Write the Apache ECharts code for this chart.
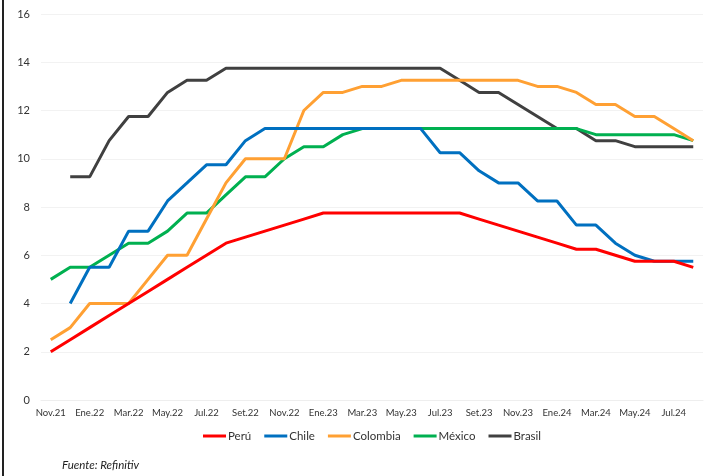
<!DOCTYPE html>
<html>
<head>
<meta charset="utf-8">
<script src="https://cdn.jsdelivr.net/npm/echarts@6/dist/echarts.min.js"></script>
<style>
html,body{margin:0;padding:0;background:#fff;}
#c{width:709px;height:476px;}
</style>
</head>
<body>
<div id="c"></div>
<script>
const months = ['Nov.21','Dic.21','Ene.22','Feb.22','Mar.22','Abr.22','May.22','Jun.22','Jul.22','Ago.22','Set.22','Oct.22','Nov.22','Dic.22','Ene.23','Feb.23','Mar.23','Abr.23','May.23','Jun.23','Jul.23','Ago.23','Set.23','Oct.23','Nov.23','Dic.23','Ene.24','Feb.24','Mar.24','Abr.24','May.24','Jun.24','Jul.24','Ago.24'];
const peru     = [2.0,2.5,3.0,3.5,4.0,4.5,5.0,5.5,6.0,6.5,6.75,7.0,7.25,7.5,7.75,7.75,7.75,7.75,7.75,7.75,7.75,7.75,7.5,7.25,7.0,6.75,6.5,6.25,6.25,6.0,5.75,5.75,5.75,5.5];
const chile    = [null,4.0,5.5,5.5,7.0,7.0,8.25,9.0,9.75,9.75,10.75,11.25,11.25,11.25,11.25,11.25,11.25,11.25,11.25,11.25,10.25,10.25,9.5,9.0,9.0,8.25,8.25,7.25,7.25,6.5,6.0,5.75,5.75,5.75];
const colombia = [2.5,3.0,4.0,4.0,4.0,5.0,6.0,6.0,7.5,9.0,10.0,10.0,10.0,12.0,12.75,12.75,13.0,13.0,13.25,13.25,13.25,13.25,13.25,13.25,13.25,13.0,13.0,12.75,12.25,12.25,11.75,11.75,11.25,10.75];
const mexico   = [5.0,5.5,5.5,6.0,6.5,6.5,7.0,7.75,7.75,8.5,9.25,9.25,10.0,10.5,10.5,11.0,11.25,11.25,11.25,11.25,11.25,11.25,11.25,11.25,11.25,11.25,11.25,11.25,11.0,11.0,11.0,11.0,11.0,10.75];
const brasil   = [null,9.25,9.25,10.75,11.75,11.75,12.75,13.25,13.25,13.75,13.75,13.75,13.75,13.75,13.75,13.75,13.75,13.75,13.75,13.75,13.75,13.25,12.75,12.75,12.25,11.75,11.25,11.25,10.75,10.75,10.5,10.5,10.5,10.5];
const yTicks = [0,2,4,6,8,10,12,14,16];

const names = ['Perú','Chile','Colombia','México','Brasil'];
const colors = ['#FF0000','#0070C0','#FFA033','#00B050','#404040'];
const datasets = [peru, chile, colombia, mexico, brasil];
const font = 'Lato, "Open Sans", sans-serif';

const chart = echarts.init(document.getElementById('c'));
chart.setOption({
  animation: false,
  backgroundColor: '#fff',
  textStyle: {fontFamily: font},
  grid: {left: 41, right: 6, top: 14, bottom: 76, containLabel: false},
  legend: {
    data: names,
    left: 198,
    top: 425,
    icon: 'rect',
    itemWidth: 23,
    itemHeight: 3,
    itemGap: 13,
    textStyle: {fontFamily: font, fontSize: 11.5, color: '#333', padding: [0,0,0,-3]}
  },
  xAxis: {
    type: 'category',
    data: months,
    boundaryGap: true,
    axisLine: {show: true, lineStyle: {color: '#EEEEEE', width: 1}},
    axisTick: {show: false},
    axisLabel: {interval: 1, fontSize: 9.5, color: '#333', margin: 8, fontFamily: font}
  },
  yAxis: {
    type: 'value',
    min: yTicks[0],
    max: yTicks[yTicks.length-1],
    interval: 2,
    axisLine: {show: false},
    axisTick: {show: false},
    splitLine: {lineStyle: {color: '#F2F2F2', width: 1}},
    axisLabel: {fontSize: 11, color: '#333', margin: 11, fontFamily: font}
  },
  graphic: [
    {type: 'rect', left: 2, top: 0, shape: {width: 2, height: 476}, style: {fill: '#222'}},
    {type: 'text', left: 62, top: 459, style: {text: 'Fuente: Refinitiv', fontFamily: font, fontSize: 11.5, fontStyle: 'italic', fill: '#222'}}
  ],
  series: datasets.map((d, i) => ({
    name: names[i],
    type: 'line',
    data: d,
    showSymbol: false,
    symbol: 'none',
    connectNulls: false,
    lineStyle: {width: 3, color: colors[i]},
    itemStyle: {color: colors[i]},
    z: 10 - i
  }))
});
</script>
</body>
</html>
